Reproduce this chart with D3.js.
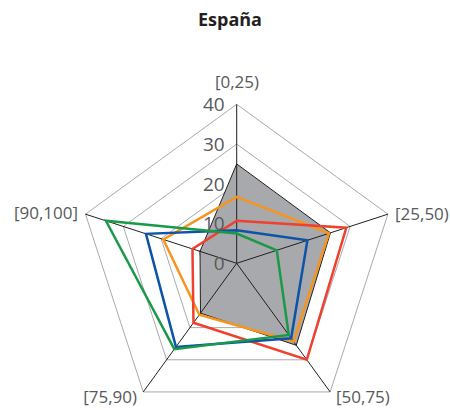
<!DOCTYPE html>
<html>
<head>
<meta charset="utf-8">
<script src="https://cdn.jsdelivr.net/npm/d3@7"></script>
<style>
  body { margin: 0; background: #fff; }
  svg { display: block; font-family: "Open Sans", sans-serif; }
</style>
</head>
<body>
<svg id="chart" width="450" height="410"></svg>
<script>
const title = "España";
const axesLabels = ["[0,25)", "[25,50)", "[50,75)", "[75,90)", "[90,100]"];
const tickValues = [0, 10, 20, 30, 40];
const seriesNames = ["Total", "Serie 1", "Serie 2", "Serie 3", "Serie 4"];
const seriesTotal  = [25, 24.8, 25.5, 15.5, 9.7];
const seriesOrange = [16.7, 24.4, 24.3, 16, 19.4];
const seriesRed    = [10.7, 29, 30, 18.5, 11.7];
const seriesBlue   = [8.3, 18.7, 23.3, 26, 24];
const seriesGreen  = [7.5, 10.6, 22.3, 26.7, 34.6];
const lineColors = ["#f7941d", "#ef4130", "#0d53a6", "#1a9a48"];

const svg = d3.select("#chart");
const cx = 236.7, cy = 263.3, R = 159;
const r = d3.scaleLinear().domain([0, 40]).range([0, R]);
const angle = d3.scalePoint().domain(axesLabels).range([0, 2 * Math.PI * 4 / 5]);
const pt = (lab, v) => {
  const a = angle(lab) - Math.PI / 2;
  return [cx + r(v) * Math.cos(a), cy + r(v) * Math.sin(a)];
};
const line = d3.line();
const poly = vals => line(axesLabels.map((l, i) => pt(l, vals[i]))) + "Z";

// title
svg.append("text").attr("x", 230).attr("y", 26).attr("text-anchor", "middle")
  .attr("font-size", 18).attr("font-weight", "bold").attr("fill", "#231f20").text(title);

// grid
svg.append("g").selectAll("path").data(tickValues.slice(1)).join("path")
  .attr("d", t => poly(axesLabels.map(() => t)))
  .attr("fill", "none").attr("stroke", "#aaaaaa").attr("stroke-width", 1);

// total area
svg.append("path").attr("d", poly(seriesTotal))
  .attr("fill", "#a7a9ac").attr("stroke", "#231f20").attr("stroke-width", 1);

// axes
svg.append("g").selectAll("line").data(axesLabels).join("line")
  .attr("x1", cx).attr("y1", cy)
  .attr("x2", d => pt(d, 40)[0]).attr("y2", d => pt(d, 40)[1])
  .attr("stroke", "#231f20").attr("stroke-width", 1);

// series lines
[seriesOrange, seriesRed, seriesBlue, seriesGreen].forEach((s, i) => {
  svg.append("path").attr("d", poly(s)).attr("fill", "none")
    .attr("stroke", lineColors[i]).attr("stroke-width", 2.5).attr("stroke-linejoin", "miter");
});

// tick labels
svg.append("g").selectAll("text").data(tickValues).join("text")
  .attr("x", cx - 12).attr("y", t => cy - r(t)).attr("dy", "0.36em")
  .attr("text-anchor", "end").attr("font-size", 19).attr("fill", "#58595b").text(t => t);

// axis labels
const labPos = [
  {x: 237, y: 82, anchor: "middle"},
  {x: 395, y: 214, anchor: "start"},
  {x: 336, y: 397, anchor: "start"},
  {x: 137, y: 397, anchor: "end"},
  {x: 78, y: 213, anchor: "end"}
];
svg.append("g").selectAll("text").data(axesLabels).join("text")
  .attr("x", (d, i) => labPos[i].x).attr("y", (d, i) => labPos[i].y).attr("dy", "0.35em")
  .attr("text-anchor", (d, i) => labPos[i].anchor)
  .attr("font-size", 17).attr("fill", "#58595b").text(d => d);
</script>
</body>
</html>
